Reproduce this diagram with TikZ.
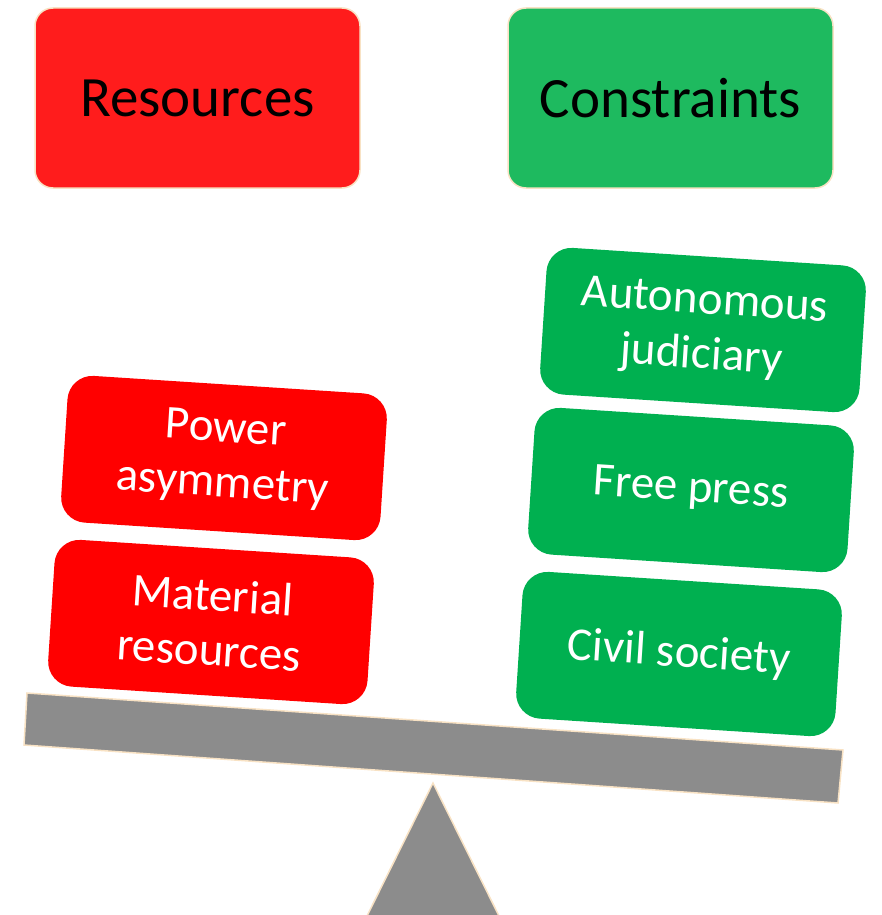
\documentclass[tikz,border=0pt]{standalone}
\usepackage{fontspec}
\setmainfont{Carlito}
\definecolor{topred}{HTML}{FF1C1C}
\definecolor{topgreen}{HTML}{1EBA5F}
\definecolor{boxred}{HTML}{FF0000}
\definecolor{boxgreen}{HTML}{00B050}
\definecolor{beamgray}{HTML}{8C8C8C}
\definecolor{beige}{HTML}{F8E2C4}
\begin{document}
\begin{tikzpicture}[x=1pt,y=-1pt,
  headbox/.style={draw=beige, line width=1.5pt, rounded corners=18pt,
    minimum width=325pt, minimum height=180pt, inner sep=0pt,
    font=\fontsize{57}{66}\selectfont, text=black},
  weightbox/.style={rounded corners=25pt, rotate=-3.7,
    minimum width=320pt, minimum height=147pt, inner sep=0pt, align=center,
    font=\fontsize{47}{55}\selectfont, text=white},
  support/.style={fill=beamgray, draw=beige, line width=1.5pt}]
\useasboundingbox (0,0) rectangle (882,915);
\node[headbox, fill=topred] (res) at (197.5,98) {Resources};
\node[headbox, fill=topgreen] (con) at (670.5,98) {Constraints};
\node[weightbox, fill=boxred] (power) at (224,458) {Power\\asymmetry};
\node[weightbox, fill=boxred] (mat) at (211,622) {Material\\resources};
\node[weightbox, fill=boxgreen] (jud) at (703,330) {Autonomous\\judiciary};
\node[weightbox, fill=boxgreen] (press) at (691,490) {Free press};
\node[weightbox, fill=boxgreen] (civil) at (679,654) {Civil society};
\draw[support] (27,693) -- (843,750) -- (838,803) -- (24,745) -- cycle;
\begin{scope}
\clip (0,0) rectangle (882,915);
\draw[support] (433,783) -- (500,918) -- (366,918) -- cycle;
\end{scope}
\end{tikzpicture}
\end{document}
